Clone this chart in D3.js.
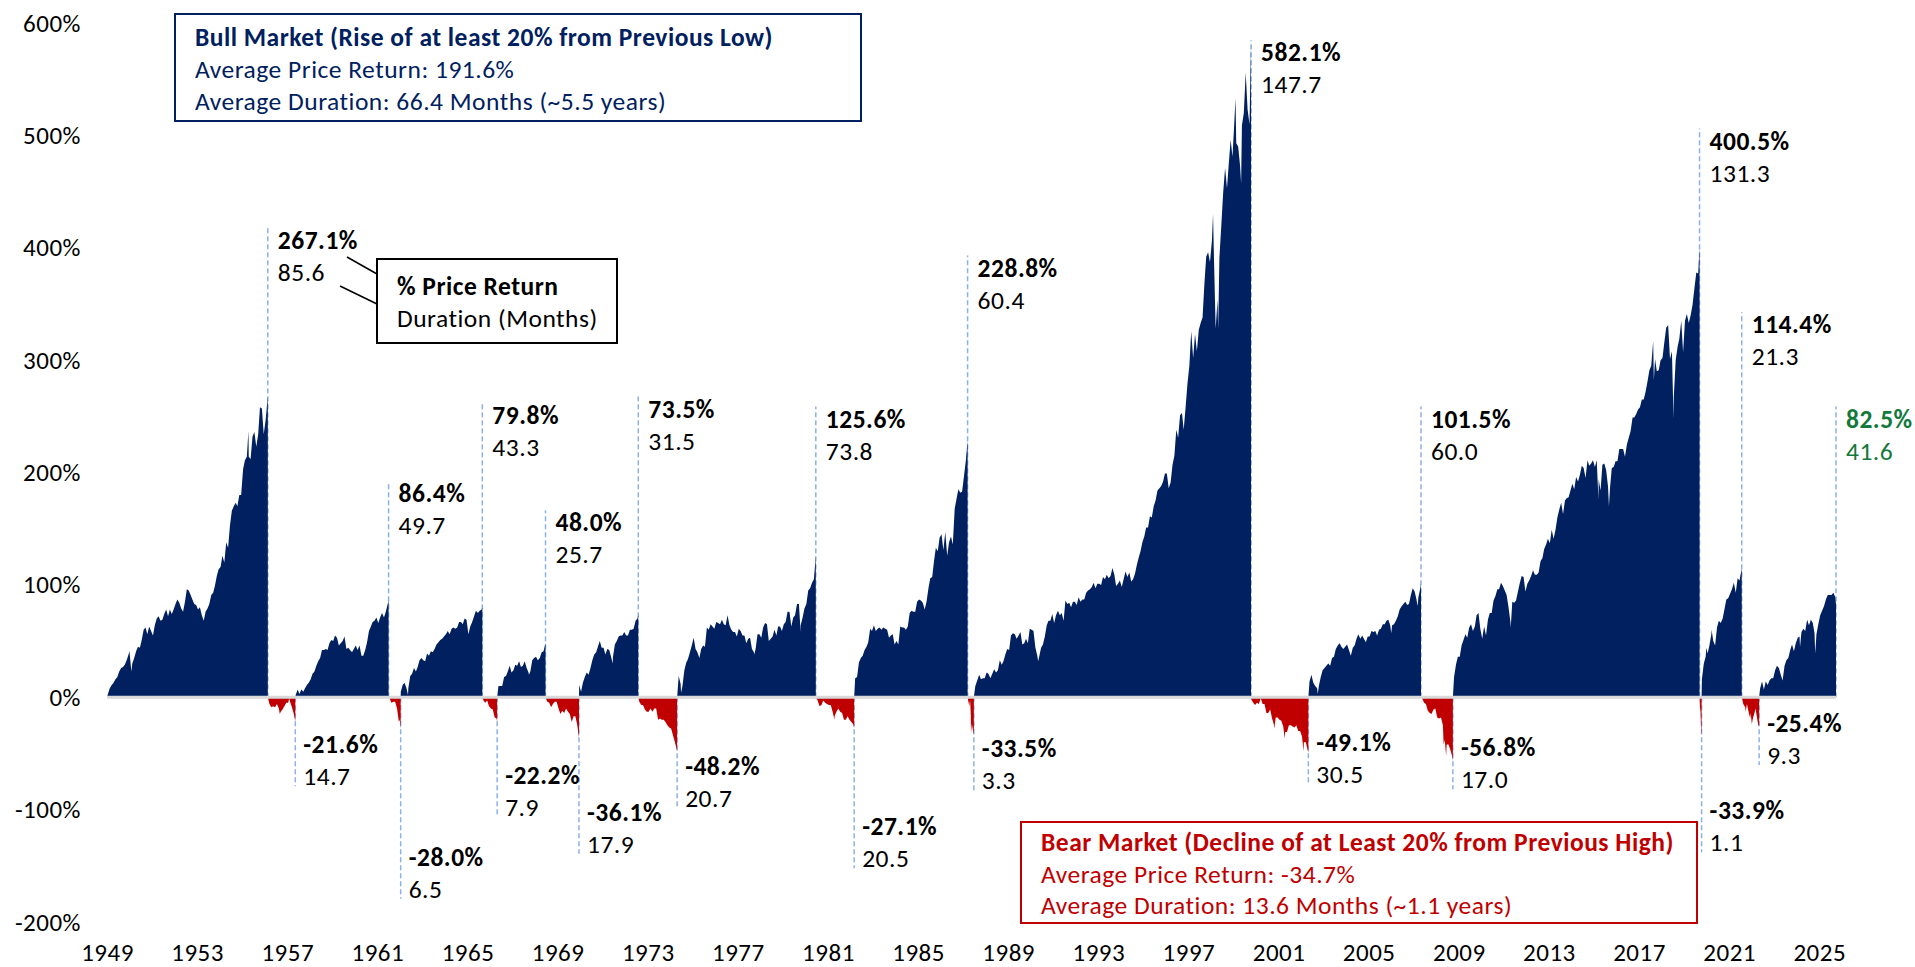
<!DOCTYPE html>
<html>
<head>
<meta charset="utf-8">
<script src="https://cdn.jsdelivr.net/npm/d3@7"></script>
<style>
  body { margin: 0; background: #fff; }
  svg text { font-family: Calibri, Carlito, Lato, sans-serif; letter-spacing: 0.5px; }
</style>
</head>
<body>
<div id="chart"></div>
<script>
// S&P 500 bull and bear markets since 1949: cumulative price return (%) inside each market
// dates "YYYY-MM" are month-end closes, full dates are turning points

const bull1949 = [["1949-06-13",0],["1949-06",3],["1949-07",8],["1949-08",11],["1949-09",13],["1949-10",16],["1949-11",18],["1949-12",23],["1950-01",26],["1950-02",27],["1950-03",29],["1950-04",33],["1950-05",38],["1950-06-12",41],["1950-07-13",23],["1950-07",30],["1950-08",35],["1950-09",41],["1950-10",45],["1950-11",44],["1950-12",51],["1951-01",60],["1951-02",62],["1951-03",56],["1951-04",63],["1951-05",59],["1951-06",55],["1951-07",64],["1951-08",70],["1951-09",72],["1951-10",68],["1951-11",69],["1951-12",74],["1952-01",78],["1952-02",72],["1952-03",78],["1952-04",74],["1952-05",78],["1952-06",83],["1952-07",87],["1952-08",84],["1952-09",79],["1952-10",76],["1952-11",85],["1952-12",96],["1953-01",95],["1953-02",91],["1953-03",87],["1953-04",83],["1953-05",82],["1953-06",78],["1953-07",80],["1953-08",73],["1953-09",68],["1953-10",76],["1953-11",79],["1953-12",83],["1954-01",91],["1954-02",93],["1954-03",99],["1954-04",108],["1954-05",114],["1954-06",116],["1954-07",126],["1954-08",120],["1954-09",138],["1954-10",133],["1954-11",153],["1954-12",166],["1955-01",170],["1955-02",173],["1955-03",170],["1955-04",180],["1955-05",180],["1955-06",203],["1955-07",211],["1955-08",214],["1955-09-23",237],["1955-09",214],["1955-10",212],["1955-11",232],["1955-12",236],["1956-01",223],["1956-02",234],["1956-03",258],["1956-04",257],["1956-05",234],["1956-06",247],["1956-07",265],["1956-08-02",267.1]];
const bear1956 = [["1956-08-02",0],["1956-08",-6],["1956-09",-9],["1956-10",-8],["1956-11",-9],["1956-12",-6],["1957-01",-10],["1957-02-12",-15],["1957-02",-13],["1957-03",-11],["1957-04",-8],["1957-05",-5],["1957-06",-5],["1957-07-15",-1],["1957-07",-4],["1957-08",-9],["1957-09",-15],["1957-10-22",-21.6]];
const bull1957 = [["1957-10-22",0],["1957-10",2],["1957-11",7],["1957-12",3],["1958-01",7],["1958-02",5],["1958-03",8],["1958-04",11],["1958-05",13],["1958-06",16],["1958-07",21],["1958-08",23],["1958-09",28],["1958-10",32],["1958-11",35],["1958-12",42],["1959-01",42],["1959-02",43],["1959-03",42],["1959-04",48],["1959-05",51],["1959-06",50],["1959-07",55],["1959-08",53],["1959-09",46],["1959-10",48],["1959-11",50],["1959-12",54],["1960-01",43],["1960-02",44],["1960-03",42],["1960-04",40],["1960-05",43],["1960-06",46],["1960-07",42],["1960-08",46],["1960-09",37],["1960-10",37],["1960-11",42],["1960-12",49],["1961-01",59],["1961-02",63],["1961-03",67],["1961-04",68],["1961-05",71],["1961-06",66],["1961-07",71],["1961-08",75],["1961-09",71],["1961-10",76],["1961-11",83],["1961-12-12",86.4]];
const bear1961 = [["1961-12-12",0],["1961-12",-1],["1962-01",-5],["1962-02",-4],["1962-03",-4],["1962-04",-10],["1962-05",-22],["1962-06-12",-20],["1962-06-26",-28]];
const bull1962 = [["1962-06-26",0],["1962-06",5],["1962-07",11],["1962-08",13],["1962-09",8],["1962-10-23",2],["1962-10",8],["1962-11",19],["1962-12",21],["1963-01",26],["1963-02",23],["1963-03",27],["1963-04",33],["1963-05",35],["1963-06",33],["1963-07",32],["1963-08",39],["1963-09",37],["1963-10",41],["1963-11",40],["1963-12",43],["1964-01",47],["1964-02",49],["1964-03",51],["1964-04",52],["1964-05",54],["1964-06",56],["1964-07",59],["1964-08",56],["1964-09",61],["1964-10",62],["1964-11",61],["1964-12",62],["1965-01",67],["1965-02",67],["1965-03",65],["1965-04",70],["1965-05",69],["1965-06-28",56],["1965-07",63],["1965-08",67],["1965-09",72],["1965-10",77],["1965-11",75],["1965-12",77],["1966-01",78],["1966-02-09",79.8]];
const bear1966 = [["1966-02-09",0],["1966-02",-3],["1966-03",-5],["1966-04",-3],["1966-05",-8],["1966-06",-10],["1966-07",-11],["1966-08",-18],["1966-09",-19],["1966-10-07",-22.2]];
const bull1966 = [["1966-10-07",0],["1966-10",10],["1966-11",10],["1966-12",10],["1967-01",18],["1967-02",19],["1967-03",23],["1967-04",28],["1967-05",22],["1967-06",24],["1967-07",29],["1967-08",28],["1967-09",32],["1967-10",27],["1967-11",28],["1967-12",32],["1968-01",26],["1968-02",22],["1968-03-05",20],["1968-03",23],["1968-04",33],["1968-05",35],["1968-06",36],["1968-07",33],["1968-08",35],["1968-09",40],["1968-10",41],["1968-11-29",48.0]];
const bear1968 = [["1968-11-29",0],["1968-12",-4],["1969-01",-5],["1969-02",-9],["1969-03",-6],["1969-04",-4],["1969-05",-4],["1969-06",-10],["1969-07",-15],["1969-08",-12],["1969-09",-14],["1969-10",-10],["1969-11",-13],["1969-12",-15],["1970-01",-22],["1970-02",-17],["1970-03",-17],["1970-04",-25],["1970-05-26",-36.1]];
const bull1970 = [["1970-05-26",0],["1970-05",11],["1970-06",5],["1970-07",13],["1970-08",18],["1970-09",22],["1970-10",20],["1970-11",26],["1970-12",33],["1971-01",38],["1971-02",40],["1971-03",45],["1971-04",50],["1971-05",44],["1971-06",44],["1971-07",38],["1971-08",43],["1971-09",42],["1971-10",36],["1971-11-23",30],["1971-11",36],["1971-12",47],["1972-01",50],["1972-02",54],["1972-03",55],["1972-04",55],["1972-05",58],["1972-06",55],["1972-07",55],["1972-08",60],["1972-09",60],["1972-10",61],["1972-11",68],["1972-12",70],["1973-01-11",73.5]];
const bear1973 = [["1973-01-11",0],["1973-01",-4],["1973-02",-7],["1973-03",-7],["1973-04",-11],["1973-05",-13],["1973-06",-13],["1973-07",-10],["1973-08",-13],["1973-09",-10],["1973-10",-10],["1973-11",-20],["1973-12",-19],["1974-01",-20],["1974-02",-20],["1974-03",-22],["1974-04",-25],["1974-05",-27],["1974-06",-28],["1974-07",-34],["1974-08",-40],["1974-09",-47],["1974-10-03",-48.2]];
const bull1974 = [["1974-10-03",0],["1974-10",19],["1974-11",12],["1974-12-06",4],["1974-12",10],["1975-01",24],["1975-02",31],["1975-03",34],["1975-04",40],["1975-05",46],["1975-06",53],["1975-07",43],["1975-08",40],["1975-09",35],["1975-10",43],["1975-11",46],["1975-12",45],["1976-01",62],["1976-02",60],["1976-03",65],["1976-04",63],["1976-05",61],["1976-06",67],["1976-07",66],["1976-08",65],["1976-09",69],["1976-10",65],["1976-11",64],["1976-12",73],["1977-01",64],["1977-02",60],["1977-03",58],["1977-04",58],["1977-05",54],["1977-06",61],["1977-07",59],["1977-08",55],["1977-09",55],["1977-10",48],["1977-11",52],["1977-12",53],["1978-01",43],["1978-02",40],["1978-03-06",38],["1978-03",43],["1978-04",56],["1978-05",56],["1978-06",53],["1978-07",62],["1978-08",66],["1978-09",65],["1978-10",50],["1978-11",52],["1978-12",54],["1979-01",60],["1979-02",55],["1979-03",63],["1979-04",63],["1979-05",59],["1979-06",65],["1979-07",67],["1979-08",76],["1979-09",76],["1979-10",63],["1979-11",71],["1979-12",73],["1980-01",83],["1980-02",83],["1980-03-27",58],["1980-03",64],["1980-04",71],["1980-05",79],["1980-06",83],["1980-07",95],["1980-08",97],["1980-09",102],["1980-10",105],["1980-11-28",125.6]];
const bear1980 = [["1980-11-28",0],["1980-12",-3],["1981-01",-8],["1981-02",-7],["1981-03",-3],["1981-04",-5],["1981-05",-6],["1981-06",-7],["1981-07",-7],["1981-08",-13],["1981-09-25",-20],["1981-09",-17],["1981-10",-13],["1981-11",-10],["1981-12",-13],["1982-01",-14],["1982-02",-20],["1982-03",-20],["1982-04",-17],["1982-05",-20],["1982-06",-22],["1982-07",-24],["1982-08-12",-27.1]];
const bull1982 = [["1982-08-12",0],["1982-08",17],["1982-09",18],["1982-10",31],["1982-11",35],["1982-12",37],["1983-01",42],["1983-02",45],["1983-03",49],["1983-04",61],["1983-05",59],["1983-06",64],["1983-07",59],["1983-08",61],["1983-09",62],["1983-10",60],["1983-11",62],["1983-12",61],["1984-01",60],["1984-02",53],["1984-03",55],["1984-04",56],["1984-05",47],["1984-06",50],["1984-07",47],["1984-08",63],["1984-09",62],["1984-10",62],["1984-11",60],["1984-12",63],["1985-01",75],["1985-02",77],["1985-03",76],["1985-04",76],["1985-05",85],["1985-06",87],["1985-07",86],["1985-08",84],["1985-09",78],["1985-10",85],["1985-11",97],["1985-12",106],["1986-01",107],["1986-02",122],["1986-03",133],["1986-04",130],["1986-05",142],["1986-06",145],["1986-07",131],["1986-08",147],["1986-09",126],["1986-10",138],["1986-11",143],["1986-12",136],["1987-01",168],["1987-02",177],["1987-03",185],["1987-04",182],["1987-05",183],["1987-06",197],["1987-07",211],["1987-08-25",228.8]];
const bear1987 = [["1987-08-25",0],["1987-08-31",-2],["1987-09-21",-8],["1987-09-30",-4],["1987-10-05",-3],["1987-10-16",-16],["1987-10-19",-33],["1987-10-21",-23],["1987-10-26",-32],["1987-11-02",-24],["1987-11-30",-32],["1987-12-04",-33.5]];
const bull1987 = [["1987-12-04",0],["1987-12",10],["1988-01",15],["1988-02",20],["1988-03",16],["1988-04",17],["1988-05",17],["1988-06",22],["1988-07",21],["1988-08",17],["1988-09",21],["1988-10",25],["1988-11",22],["1988-12",24],["1989-01",33],["1989-02",29],["1989-03",32],["1989-04",38],["1989-05",43],["1989-06",42],["1989-07",55],["1989-08",57],["1989-09",56],["1989-10",52],["1989-11",55],["1989-12",58],["1990-01",47],["1990-02",48],["1990-03",52],["1990-04",48],["1990-05",61],["1990-06",60],["1990-07",59],["1990-08",44],["1990-09",37],["1990-10-11",32],["1990-10",36],["1990-11",44],["1990-12",47],["1991-01",54],["1991-02",64],["1991-03",68],["1991-04",68],["1991-05",74],["1991-06",66],["1991-07",73],["1991-08",77],["1991-09",73],["1991-10",75],["1991-11",68],["1991-12",86],["1992-01",83],["1992-02",84],["1992-03",80],["1992-04",85],["1992-05",85],["1992-06",82],["1992-07",89],["1992-08",85],["1992-09",87],["1992-10",87],["1992-11",93],["1992-12",95],["1993-01",96],["1993-02",98],["1993-03",102],["1993-04",97],["1993-05",101],["1993-06",101],["1993-07",100],["1993-08",107],["1993-09",105],["1993-10",109],["1993-11",106],["1993-12",108],["1994-01",115],["1994-02",109],["1994-03",99],["1994-04",101],["1994-05",104],["1994-06",98],["1994-07",105],["1994-08",112],["1994-09",107],["1994-10",111],["1994-11",103],["1994-12",105],["1995-01",110],["1995-02",118],["1995-03",124],["1995-04",130],["1995-05",138],["1995-06",143],["1995-07",151],["1995-08",151],["1995-09",161],["1995-10",160],["1995-11",170],["1995-12",175],["1996-01",184],["1996-02",186],["1996-03",188],["1996-04",192],["1996-05",199],["1996-06",199],["1996-07",186],["1996-08",191],["1996-09",207],["1996-10",215],["1996-11",238],["1996-12",231],["1997-01",251],["1997-02",253],["1997-03",238],["1997-04",258],["1997-05",279],["1997-06",295],["1997-07",326],["1997-08",302],["1997-09",323],["1997-10",308],["1997-11",327],["1997-12",333],["1998-01",338],["1998-02",369],["1998-03",392],["1998-04",396],["1998-05",387],["1998-06",406],["1998-07-17",430],["1998-07",400],["1998-08",328],["1998-09",354],["1998-10-08",328],["1998-10",391],["1998-11",420],["1998-12",449],["1999-01",471],["1999-02",453],["1999-03",474],["1999-04",496],["1999-05",481],["1999-06",513],["1999-07-16",533],["1999-07",493],["1999-08",490],["1999-09",473],["1999-10-15",457],["1999-10",509],["1999-11",520],["1999-12",556],["2000-01",523],["2000-02",510],["2000-03-24",582.1]];
const bear2000 = [["2000-03-24",0],["2000-03",-2],["2000-04",-5],["2000-05",-7],["2000-06",-5],["2000-07",-6],["2000-08",-1],["2000-09",-6],["2000-10",-6],["2000-11",-14],["2000-12",-14],["2001-01",-11],["2001-02",-19],["2001-03",-24],["2001-04-04",-28],["2001-04",-18],["2001-05",-18],["2001-06",-20],["2001-07",-21],["2001-08",-26],["2001-09-21",-37],["2001-09",-31],["2001-10",-31],["2001-11",-25],["2001-12",-25],["2002-01",-26],["2002-02",-27],["2002-03",-25],["2002-04",-30],["2002-05",-30],["2002-06",-35],["2002-07-23",-48],["2002-07",-40],["2002-08",-40],["2002-09",-47],["2002-10-09",-49.1]];
const bull2002 = [["2002-10-09",0],["2002-10",14],["2002-11",20],["2002-12",13],["2003-01",10],["2003-02",8],["2003-03-11",3],["2003-03",10],["2003-04",18],["2003-05",24],["2003-06",26],["2003-07",28],["2003-08",30],["2003-09",28],["2003-10",35],["2003-11",36],["2003-12",43],["2004-01",46],["2004-02",48],["2004-03",45],["2004-04",43],["2004-05",45],["2004-06",47],["2004-07",42],["2004-08",37],["2004-09",44],["2004-10",46],["2004-11",52],["2004-12",56],["2005-01",52],["2005-02",55],["2005-03",52],["2005-04",49],["2005-05",54],["2005-06",54],["2005-07",59],["2005-08",58],["2005-09",59],["2005-10",55],["2005-11",60],["2005-12",61],["2006-01",65],["2006-02",65],["2006-03",68],["2006-04",69],["2006-05",64],["2006-06-13",57],["2006-06",64],["2006-07",65],["2006-08",68],["2006-09",72],["2006-10",78],["2006-11",81],["2006-12",83],["2007-01",85],["2007-02",82],["2007-03",83],["2007-04",91],["2007-05",97],["2007-06",94],["2007-07",87],["2007-08-15",81],["2007-08",89],["2007-09",97],["2007-10-09",101.5]];
const bear2007 = [["2007-10-09",0],["2007-10",-1],["2007-11",-5],["2007-12",-6],["2008-01",-12],["2008-02",-14],["2008-03",-15],["2008-04",-11],["2008-05",-10],["2008-06",-18],["2008-07",-19],["2008-08",-18],["2008-09",-25],["2008-10-10",-42],["2008-10",-38],["2008-11-20",-52],["2008-11",-42],["2008-12",-42],["2009-01",-47],["2009-02",-53],["2009-03-09",-56.8]];
const bull2009 = [["2009-03-09",0],["2009-03",18],["2009-04",29],["2009-05",36],["2009-06",36],["2009-07",46],["2009-08",51],["2009-09",56],["2009-10",53],["2009-11",62],["2009-12",65],["2010-01",59],["2010-02",63],["2010-03",73],["2010-04",75],["2010-05",61],["2010-06",52],["2010-07",63],["2010-08",55],["2010-09",69],["2010-10",75],["2010-11",75],["2010-12",86],["2011-01",90],["2011-02",96],["2011-03",96],["2011-04",102],["2011-05",99],["2011-06",95],["2011-07",91],["2011-08",80],["2011-09",67],["2011-10-03",62],["2011-10",85],["2011-11",84],["2011-12",86],["2012-01",94],["2012-02",102],["2012-03",108],["2012-04",107],["2012-05",94],["2012-06",101],["2012-07",104],["2012-08",108],["2012-09",113],["2012-10",109],["2012-11",109],["2012-12",111],["2013-01",121],["2013-02",124],["2013-03",132],["2013-04",136],["2013-05",141],["2013-06",137],["2013-07",149],["2013-08",141],["2013-09",149],["2013-10",160],["2013-11",167],["2013-12",173],["2014-01",163],["2014-02",175],["2014-03",177],["2014-04",178],["2014-05",184],["2014-06",190],["2014-07",185],["2014-08",196],["2014-09",192],["2014-10",198],["2014-11",206],["2014-12",204],["2015-01",195],["2015-02",211],["2015-03",206],["2015-04",208],["2015-05",211],["2015-06",205],["2015-07",211],["2015-08-25",176],["2015-08",194],["2015-09",184],["2015-10",207],["2015-11",208],["2015-12",202],["2016-01",187],["2016-02-11",170],["2016-02",186],["2016-03",204],["2016-04",205],["2016-05",210],["2016-06",210],["2016-07",221],["2016-08",221],["2016-09",221],["2016-10",214],["2016-11",225],["2016-12",231],["2017-01",237],["2017-02",249],["2017-03",249],["2017-04",252],["2017-05",256],["2017-06",258],["2017-07",265],["2017-08",265],["2017-09",272],["2017-10",281],["2017-11",291],["2017-12",295],["2018-01",317],["2018-02-08",282],["2018-02",301],["2018-03",290],["2018-04",291],["2018-05",300],["2018-06",302],["2018-07",316],["2018-08",329],["2018-09",331],["2018-10",301],["2018-11",308],["2018-12-24",248],["2018-12",267],["2019-01",300],["2019-02",312],["2019-03",319],["2019-04",335],["2019-05",307],["2019-06",335],["2019-07",341],["2019-08",333],["2019-09",340],["2019-10",349],["2019-11",364],["2019-12",378],["2020-01",377],["2020-02-19",400.5]];
const bear2020 = [["2020-02-19",0],["2020-02-28",-13],["2020-03-03",-9],["2020-03-09",-19],["2020-03-12",-27],["2020-03-13",-21],["2020-03-16",-30],["2020-03-23",-33.9]];
const bull2020 = [["2020-03-23",0],["2020-03",16],["2020-04",30],["2020-05",36],["2020-06-08",44],["2020-06",39],["2020-07",46],["2020-08",56],["2020-09-02",60],["2020-09",50],["2020-10",46],["2020-11",62],["2020-12",68],["2021-01",66],["2021-02",70],["2021-03",78],["2021-04",87],["2021-05",88],["2021-06",92],["2021-07",96],["2021-08",102],["2021-09",93],["2021-10",106],["2021-11",104],["2021-12",113],["2022-01-03",114.4]];
const bear2022 = [["2022-01-03",0],["2022-01",-6],["2022-02",-9],["2022-03-08",-13],["2022-03",-6],["2022-04",-14],["2022-05-20",-19],["2022-05",-14],["2022-06-16",-24],["2022-06",-20],["2022-07",-14],["2022-08-16",-10],["2022-08",-15],["2022-09",-25],["2022-10-12",-25.4]];
const bull2022 = [["2022-10-12",0],["2022-10",8],["2022-11",14],["2022-12",7],["2023-01",14],["2023-02",11],["2023-03",15],["2023-04",17],["2023-05",17],["2023-06",24],["2023-07",28],["2023-08",26],["2023-09",20],["2023-10-27",15],["2023-11",28],["2023-12",33],["2024-01",35],["2024-02",42],["2024-03",47],["2024-04",41],["2024-05",48],["2024-06",53],["2024-07",54],["2024-08-05",45],["2024-08",58],["2024-09",61],["2024-10",59],["2024-11",69],["2024-12",64],["2025-01",69],["2025-02",66],["2025-03",57],["2025-04-08",39],["2025-04",56],["2025-05",65],["2025-06",73],["2025-07",77],["2025-08",81],["2025-09",87],["2025-10",91],["2025-11",91],["2025-12",91],["2026-01",93],["2026-02",89],["2026-03-11",82.5]];

const marketPaths = [bull1949, bear1956, bull1957, bear1961, bull1962, bear1966, bull1966, bear1968,
  bull1970, bear1973, bull1974, bear1980, bull1982, bear1987, bull1987, bear2000, bull2002, bear2007,
  bull2009, bear2020, bull2020, bear2022, bull2022];
const marketReturn = [267.1, -21.6, 86.4, -28.0, 79.8, -22.2, 48.0, -36.1, 73.5, -48.2, 125.6, -27.1,
  228.8, -33.5, 582.1, -49.1, 101.5, -56.8, 400.5, -33.9, 114.4, -25.4, 82.5];
const marketMonths = [85.6, 14.7, 49.7, 6.5, 43.3, 7.9, 25.7, 17.9, 31.5, 20.7, 73.8, 20.5,
  60.4, 3.3, 147.7, 30.5, 60.0, 17.0, 131.3, 1.1, 21.3, 9.3, 41.6];
// level (in %) where each pair of labels sits
const labelLevel = [407.5, -41.8, 181.5, -142, 251, -69.4, 155.7, -102, 257, -61.4, 248, -114.8,
  382.5, -45.4, 574, -40, 248, -44.5, 495.5, -100.5, 332, -23, 248];

const yTicks = [-200, -100, 0, 100, 200, 300, 400, 500, 600];
const xTickYears = [1949, 1953, 1957, 1961, 1965, 1969, 1973, 1977, 1981, 1985, 1989, 1993, 1997,
  2001, 2005, 2009, 2013, 2017, 2021, 2025];

const bullBox = ["Bull Market (Rise of at least 20% from Previous Low)", "Average Price Return: 191.6%",
  "Average Duration: 66.4 Months (~5.5 years)"];
const bearBox = ["Bear Market (Decline of at Least 20% from Previous High)", "Average Price Return: -34.7%",
  "Average Duration: 13.6 Months (~1.1 years)"];
const keyBox = ["% Price Return", "Duration (Months)"];

(function () {
  const width = 1915;
  const height = 967;
  const navy = "#002060";
  const red = "#C00000";
  const green = "#13793B";
  const dashBlue = "#8CB1E8";
  const tickSize = "25px";
  const labelSize = "25.5px";

  const parseDay = d3.timeParse("%Y-%m-%d");
  const toDate = (s) => (s.length === 7 ? parseDay(s + "-28") : parseDay(s));

  const markets = marketPaths.map((p, i) => ({
    kind: i % 2 === 0 ? "bull" : "bear",
    pts: p.map(([d, v]) => ({ date: toDate(d), v: v })),
    ret: marketReturn[i],
    months: marketMonths[i],
    level: labelLevel[i],
    last: i === marketPaths.length - 1,
  }));

  const svg = d3.select("#chart").append("svg").attr("width", width).attr("height", height);

  const x = d3
    .scaleTime()
    .domain([parseDay("1949-06-13"), parseDay("2026-03-11")])
    .range([107, 1836]);

  const y = d3.scaleLinear().domain([-200, 600]).range([922, 23]);

  // y axis labels
  svg
    .append("g")
    .attr("transform", "translate(81, 0)")
    .call(d3.axisLeft(y).tickValues(yTicks).tickSize(0).tickPadding(0).tickFormat((d) => d + "%"))
    .call((g) => g.select(".domain").remove())
    .selectAll("text")
    .style("font-size", tickSize)
    .style("fill", "#000");

  // x axis labels
  svg
    .append("g")
    .attr("transform", "translate(0, 943)")
    .call(
      d3.axisBottom(x)
        .tickValues(xTickYears.map((yr) => new Date(yr, 5, 13)))
        .tickSize(0)
        .tickPadding(0)
        .tickFormat(d3.timeFormat("%Y"))
    )
    .call((g) => g.select(".domain").remove())
    .selectAll("text")
    .style("font-size", tickSize)
    .style("fill", "#000");

  const endX = (m) => x(m.pts[m.pts.length - 1].date);

  // dashed leader lines at the end of each market
  svg
    .selectAll(".lead")
    .data(markets)
    .enter()
    .append("line")
    .attr("x1", endX)
    .attr("x2", endX)
    .attr("y1", y(0))
    .attr("y2", (m) => (m.kind === "bull" ? y(m.level) - 12 : y(m.level) + 42))
    .attr("stroke", dashBlue)
    .attr("stroke-width", 1.5)
    .attr("stroke-dasharray", "5,3");

  // market areas
  const area = d3
    .area()
    .x((d) => x(d.date))
    .y0(y(0))
    .y1((d) => y(d.v));

  svg
    .selectAll(".mkt")
    .data(markets)
    .enter()
    .append("path")
    .attr("d", (m) => area(m.pts))
    .attr("fill", (m) => (m.kind === "bull" ? navy : red));

  // zero line
  svg
    .append("line")
    .attr("x1", x.range()[0])
    .attr("x2", x.range()[1])
    .attr("y1", y(0))
    .attr("y2", y(0))
    .attr("stroke", "#D9D9D9")
    .attr("stroke-width", 3);

  // return / duration labels
  const lab = svg.selectAll(".lab").data(markets).enter().append("g");

  lab
    .append("text")
    .attr("x", (m) => endX(m) + (m.kind === "bull" ? 10 : 8))
    .attr("y", (m) => y(m.level))
    .attr("dy", "0.36em")
    .style("font-size", labelSize)
    .style("font-weight", "bold")
    .style("fill", (m) => (m.last ? green : "#000"))
    .text((m) => m.ret.toFixed(1) + "%");

  lab
    .append("text")
    .attr("x", (m) => endX(m) + (m.kind === "bull" ? 10 : 8))
    .attr("y", (m) => y(m.level) + 32)
    .attr("dy", "0.36em")
    .style("font-size", labelSize)
    .style("fill", (m) => (m.last ? green : "#000"))
    .text((m) => m.months.toFixed(1));

  // boxes
  function textBox(lines, box, color, textX, firstY, step) {
    svg
      .append("rect")
      .attr("x", box[0])
      .attr("y", box[1])
      .attr("width", box[2])
      .attr("height", box[3])
      .attr("fill", "#fff")
      .attr("stroke", color)
      .attr("stroke-width", 2);
    svg
      .selectAll(null)
      .data(lines)
      .enter()
      .append("text")
      .attr("x", textX)
      .attr("y", (d, i) => firstY + i * step)
      .attr("dy", "0.36em")
      .style("font-size", labelSize)
      .style("font-weight", (d, i) => (i === 0 ? "bold" : "normal"))
      .style("fill", color)
      .text((d) => d);
  }

  textBox(bullBox, [175, 14, 686, 107], navy, 195, 37, 32);
  textBox(bearBox, [1021, 822, 676, 101], red, 1041, 842, 31.5);

  // key box with pointers
  svg.append("line").attr("x1", 347).attr("y1", 257).attr("x2", 377).attr("y2", 274)
    .attr("stroke", "#000").attr("stroke-width", 1.5);
  svg.append("line").attr("x1", 340).attr("y1", 286).attr("x2", 377).attr("y2", 304)
    .attr("stroke", "#000").attr("stroke-width", 1.5);
  textBox(keyBox, [377, 259, 240, 84], "#000", 397, 286, 32);
})();
</script>
</body>
</html>
